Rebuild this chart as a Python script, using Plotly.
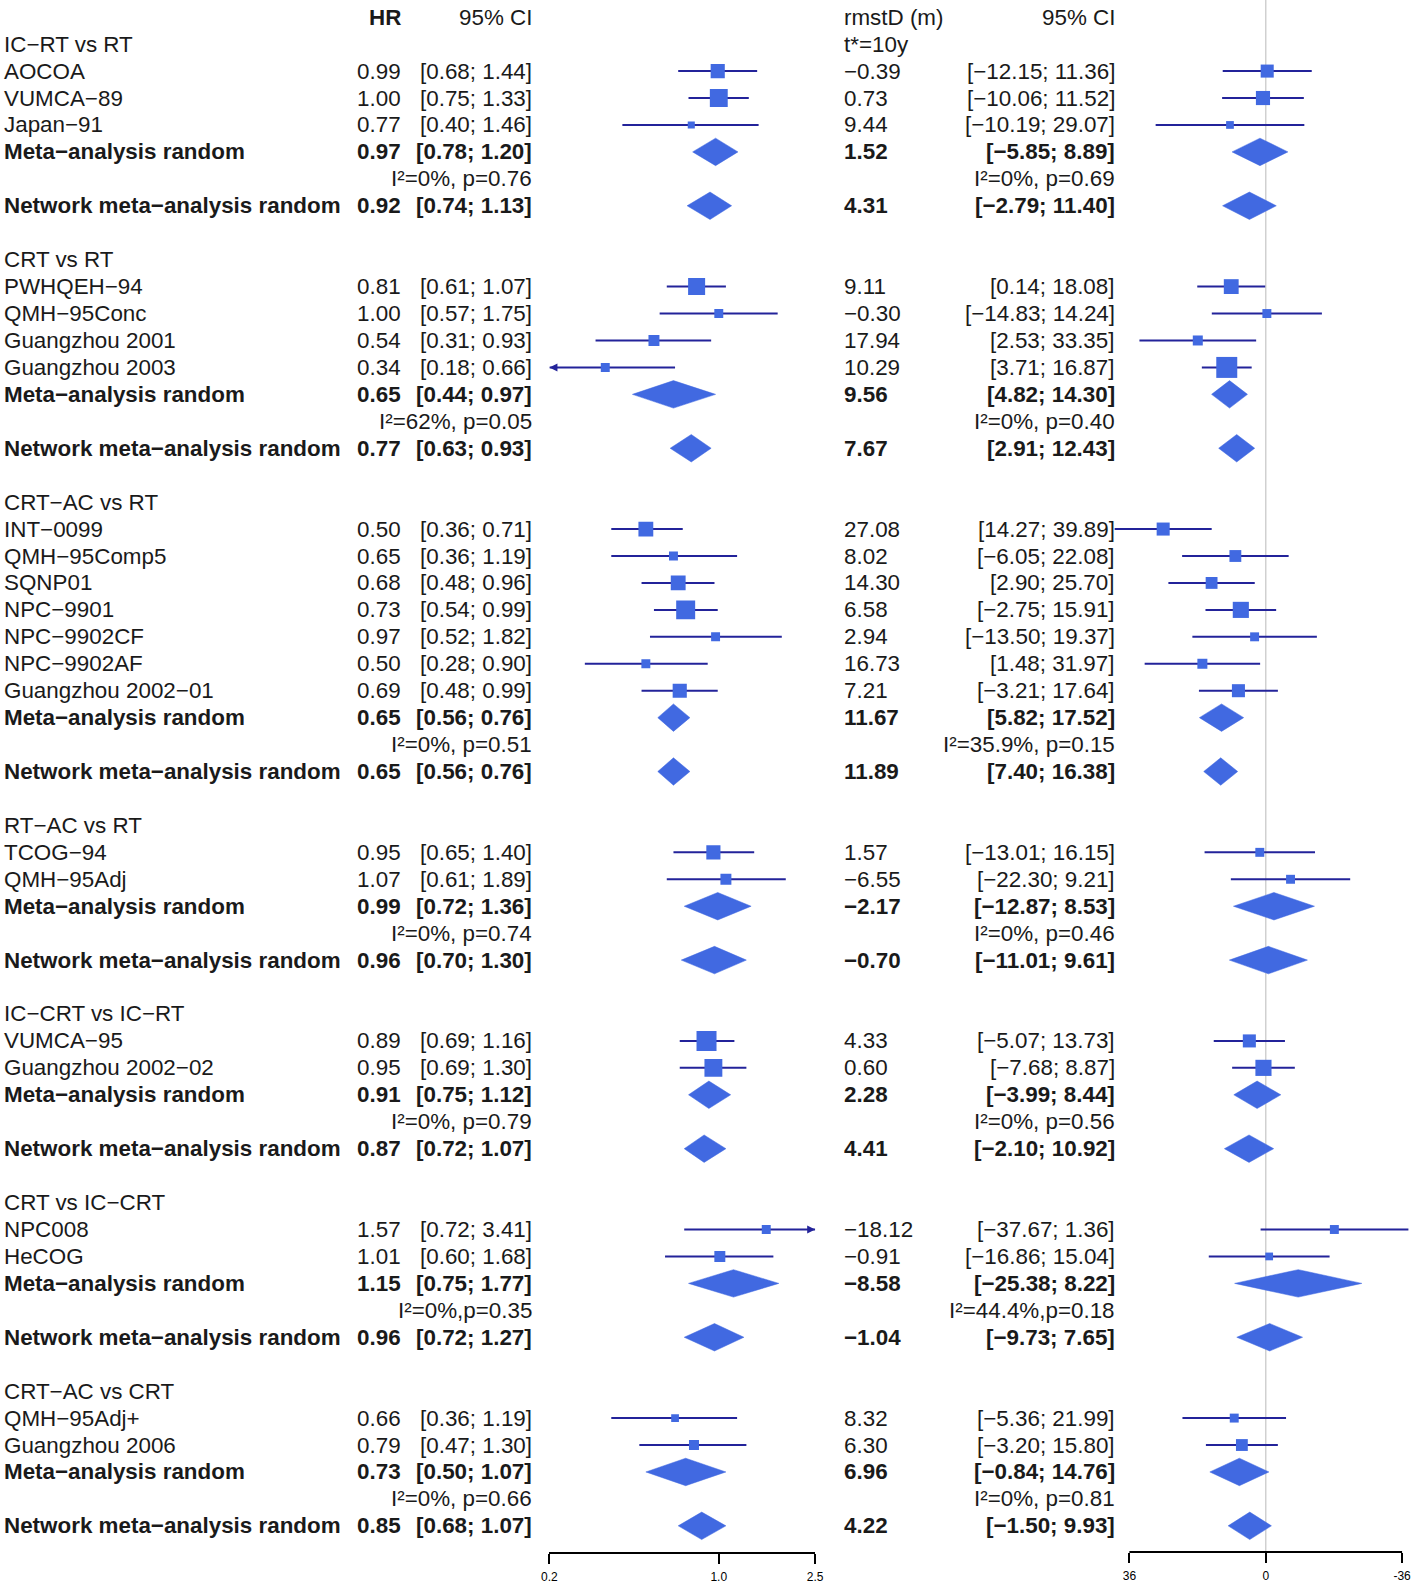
import math
import plotly.graph_objects as go

# ---------------- data ----------------
group_names = ["IC−RT vs RT", "CRT vs RT", "CRT−AC vs RT", "RT−AC vs RT",
               "IC−CRT vs IC−RT", "CRT vs IC−CRT", "CRT−AC vs CRT"]
study_group = [0, 0, 0, 1, 1, 1, 1, 2, 2, 2, 2, 2, 2, 2, 3, 3, 4, 4, 5, 5, 6, 6]
study_names = ["AOCOA", "VUMCA−89", "Japan−91", "PWHQEH−94", "QMH−95Conc",
               "Guangzhou 2001", "Guangzhou 2003", "INT−0099", "QMH−95Comp5",
               "SQNP01", "NPC−9901", "NPC−9902CF", "NPC−9902AF",
               "Guangzhou 2002−01", "TCOG−94", "QMH−95Adj", "VUMCA−95",
               "Guangzhou 2002−02", "NPC008", "HeCOG", "QMH−95Adj+", "Guangzhou 2006"]
hr_est = [0.99, 1.00, 0.77, 0.81, 1.00, 0.54, 0.34, 0.50, 0.65, 0.68, 0.73,
          0.97, 0.50, 0.69, 0.95, 1.07, 0.89, 0.95, 1.57, 1.01, 0.66, 0.79]
hr_lo = [0.68, 0.75, 0.40, 0.61, 0.57, 0.31, 0.18, 0.36, 0.36, 0.48, 0.54,
         0.52, 0.28, 0.48, 0.65, 0.61, 0.69, 0.69, 0.72, 0.60, 0.36, 0.47]
hr_hi = [1.44, 1.33, 1.46, 1.07, 1.75, 0.93, 0.66, 0.71, 1.19, 0.96, 0.99,
         1.82, 0.90, 0.99, 1.40, 1.89, 1.16, 1.30, 3.41, 1.68, 1.19, 1.30]
rm_est = [-0.39, 0.73, 9.44, 9.11, -0.30, 17.94, 10.29, 27.08, 8.02, 14.30, 6.58,
          2.94, 16.73, 7.21, 1.57, -6.55, 4.33, 0.60, -18.12, -0.91, 8.32, 6.30]
rm_lo = [-12.15, -10.06, -10.19, 0.14, -14.83, 2.53, 3.71, 14.27, -6.05, 2.90, -2.75,
         -13.50, 1.48, -3.21, -13.01, -22.30, -5.07, -7.68, -37.67, -16.86, -5.36, -3.20]
rm_hi = [11.36, 11.52, 29.07, 18.08, 14.24, 33.35, 16.87, 39.89, 22.08, 25.70, 15.91,
         19.37, 31.97, 17.64, 16.15, 9.21, 13.73, 8.87, 1.36, 15.04, 21.99, 15.80]
# relative study weights (estimated from square areas)
w_hr = [20, 32, 5, 29, 8, 12, 8, 22, 8, 22, 36, 8, 8, 20, 20, 12, 40, 32, 8, 12, 6, 10]
w_rm = [17, 20, 6, 22, 8, 10, 44, 17, 14, 14, 26, 8, 10, 17, 8, 8, 17, 26, 8, 6, 8, 14]

meta_hr = [0.97, 0.65, 0.65, 0.99, 0.91, 1.15, 0.73]
meta_hr_lo = [0.78, 0.44, 0.56, 0.72, 0.75, 0.75, 0.50]
meta_hr_hi = [1.20, 0.97, 0.76, 1.36, 1.12, 1.77, 1.07]
meta_rm = [1.52, 9.56, 11.67, -2.17, 2.28, -8.58, 6.96]
meta_rm_lo = [-5.85, 4.82, 5.82, -12.87, -3.99, -25.38, -0.84]
meta_rm_hi = [8.89, 14.30, 17.52, 8.53, 8.44, 8.22, 14.76]
het_hr = ["I²=0%, p=0.76", "I²=62%, p=0.05", "I²=0%, p=0.51", "I²=0%, p=0.74",
          "I²=0%, p=0.79", "I²=0%,p=0.35", "I²=0%, p=0.66"]
het_rm = ["I²=0%, p=0.69", "I²=0%, p=0.40", "I²=35.9%, p=0.15", "I²=0%, p=0.46",
          "I²=0%, p=0.56", "I²=44.4%,p=0.18", "I²=0%, p=0.81"]
net_hr = [0.92, 0.77, 0.65, 0.96, 0.87, 0.96, 0.85]
net_hr_lo = [0.74, 0.63, 0.56, 0.70, 0.72, 0.72, 0.68]
net_hr_hi = [1.13, 0.93, 0.76, 1.30, 1.07, 1.27, 1.07]
net_rm = [4.31, 7.67, 11.89, -0.70, 4.41, -1.04, 4.22]
net_rm_lo = [-2.79, 2.91, 7.40, -11.01, -2.10, -9.73, -1.50]
net_rm_hi = [11.40, 12.43, 16.38, 9.61, 10.92, 7.65, 9.93]

hr_ticks = [0.2, 1.0, 2.5]
hr_ticktext = ["0.2", "1.0", "2.5"]
rm_ticks = [36, 0, -36]
rm_ticktext = ["36", "0", "-36"]

# ---------------- layout constants ----------------
W, H = 1418, 1585
ROW0_PX, ROW_H = 17.2, 26.94
AXIS_PX = 1552
FONT = "Liberation Sans, Arial, sans-serif"
FS = 22.4
TXT = "#1a1a1a"
NAVY = "#23239a"
BLUE = "#4169E1"
HR_LO_B, HR_HI_B = hr_ticks[0], hr_ticks[-1]

def fmt(v):
    return f"{v:.2f}".replace("-", "−")

def ci(lo, hi):
    return f"[{fmt(lo)}; {fmt(hi)}]"

ann = []
def txt(xpx, row, s, anchor, bold=False):
    ann.append(dict(x=xpx / W, xref="paper", y=row, yref="y", text=(f"<b>{s}</b>" if bold else s),
                    showarrow=False, xanchor=anchor, yanchor="middle",
                    font=dict(family=FONT, size=FS, color=TXT)))

X_LAB, X_HR, X_HRCI, X_RM, X_RMCI = -6, 400, 532, 844, 1122

# header
txt(X_HR, 0, "HR", "right", bold=True)
txt(X_HRCI, 0, "95% CI", "right")
txt(X_RM, 0, "rmstD (m)", "left")
txt(X_RMCI, 0, "95% CI", "right")
txt(X_RM, 1, "t*=10y", "left")

# row assignment
study_rows, meta_rows, het_rows, net_rows, group_rows = [], [], [], [], []
row = 1
si = 0
for g, gname in enumerate(group_names):
    group_rows.append(row)
    txt(X_LAB, row, gname, "left")
    row += 1
    while si < len(study_names) and study_group[si] == g:
        study_rows.append(row)
        row += 1
        si += 1
    meta_rows.append(row); row += 1
    het_rows.append(row); row += 1
    net_rows.append(row); row += 2

for i, r in enumerate(study_rows):
    txt(X_LAB, r, study_names[i], "left")
    txt(X_HR, r, fmt(hr_est[i]), "right")
    txt(X_HRCI, r, ci(hr_lo[i], hr_hi[i]), "right")
    txt(X_RM, r, fmt(rm_est[i]), "left")
    txt(X_RMCI, r, ci(rm_lo[i], rm_hi[i]), "right")

for g in range(len(group_names)):
    r = meta_rows[g]
    txt(X_LAB, r, "Meta−analysis random", "left", True)
    txt(X_HR, r, fmt(meta_hr[g]), "right", True)
    txt(X_HRCI, r, ci(meta_hr_lo[g], meta_hr_hi[g]), "right", True)
    txt(X_RM, r, fmt(meta_rm[g]), "left", True)
    txt(X_RMCI, r, ci(meta_rm_lo[g], meta_rm_hi[g]), "right", True)
    r = het_rows[g]
    txt(X_HRCI, r, het_hr[g], "right")
    txt(X_RMCI, r, het_rm[g], "right")
    r = net_rows[g]
    txt(X_LAB, r, "Network meta−analysis random", "left", True)
    txt(X_HR, r, fmt(net_hr[g]), "right", True)
    txt(X_HRCI, r, ci(net_hr_lo[g], net_hr_hi[g]), "right", True)
    txt(X_RM, r, fmt(net_rm[g]), "left", True)
    txt(X_RMCI, r, ci(net_rm_lo[g], net_rm_hi[g]), "right", True)

fig = go.Figure()

# ---------- HR panel ----------
lx, ly = [], []
arr_l_x, arr_l_y, arr_r_x, arr_r_y = [], [], [], []
for i, r in enumerate(study_rows):
    lo = max(hr_lo[i], HR_LO_B)
    hi = min(hr_hi[i], HR_HI_B)
    lx += [lo, hi, None]; ly += [r, r, None]
    if hr_lo[i] < HR_LO_B:
        arr_l_x.append(HR_LO_B); arr_l_y.append(r)
    if hr_hi[i] > HR_HI_B:
        arr_r_x.append(HR_HI_B); arr_r_y.append(r)
fig.add_trace(go.Scatter(x=lx, y=ly, mode="lines", line=dict(color=NAVY, width=2),
                         xaxis="x", yaxis="y", hoverinfo="skip"))
fig.add_trace(go.Scatter(x=arr_l_x, y=arr_l_y, mode="markers", cliponaxis=False,
                         marker=dict(symbol="arrow-left", size=8, color=NAVY, opacity=1),
                         xaxis="x", yaxis="y"))
fig.add_trace(go.Scatter(x=arr_r_x, y=arr_r_y, mode="markers", cliponaxis=False,
                         marker=dict(symbol="arrow-right", size=8, color=NAVY, opacity=1),
                         xaxis="x", yaxis="y"))
fig.add_trace(go.Scatter(x=hr_est, y=study_rows, mode="markers",
                         marker=dict(symbol="square", color=BLUE, opacity=1,
                                     size=[math.sqrt(10 * w) for w in w_hr], line=dict(width=0)),
                         xaxis="x", yaxis="y"))

DH = 0.51
def diamonds(est, lo, hi, rows):
    xs, ys = [], []
    for e, a, b, r in zip(est, lo, hi, rows):
        xs += [a, e, b, e, a, None]
        ys += [r, r - DH, r, r + DH, r, None]
    return xs, ys

for (est, lo, hi, rows) in [(meta_hr, meta_hr_lo, meta_hr_hi, meta_rows),
                            (net_hr, net_hr_lo, net_hr_hi, net_rows)]:
    xs, ys = diamonds(est, lo, hi, rows)
    fig.add_trace(go.Scatter(x=xs, y=ys, mode="lines", fill="toself", fillcolor=BLUE,
                             line=dict(color=BLUE, width=0.5), xaxis="x", yaxis="y"))

# ---------- RMST panel ----------
rx, ry = [], []
for i, r in enumerate(study_rows):
    rx += [rm_lo[i], rm_hi[i], None]; ry += [r, r, None]
fig.add_trace(go.Scatter(x=rx, y=ry, mode="lines", line=dict(color=NAVY, width=2),
                         xaxis="x2", yaxis="y"))
fig.add_trace(go.Scatter(x=rm_est, y=study_rows, mode="markers",
                         marker=dict(symbol="square", color=BLUE, opacity=1,
                                     size=[math.sqrt(10 * w) for w in w_rm], line=dict(width=0)),
                         xaxis="x2", yaxis="y"))
for (est, lo, hi, rows) in [(meta_rm, meta_rm_lo, meta_rm_hi, meta_rows),
                            (net_rm, net_rm_lo, net_rm_hi, net_rows)]:
    xs, ys = diamonds(est, lo, hi, rows)
    fig.add_trace(go.Scatter(x=xs, y=ys, mode="lines", fill="toself", fillcolor=BLUE,
                             line=dict(color=BLUE, width=0.5), xaxis="x2", yaxis="y"))

# ---------- axes ----------
y_dom_bottom = 1 - AXIS_PX / H
y_top = -ROW0_PX / ROW_H
y_bot = (AXIS_PX - ROW0_PX) / ROW_H

L0, L1 = 548, 817
R_DOM0, R_DOM1 = 1085, 1418
R36_PX, RM36_PX = 1135, 1411
ppu = (RM36_PX - R36_PX) / (rm_ticks[0] - rm_ticks[-1])
r_left = rm_ticks[0] + (R36_PX - R_DOM0) / ppu
r_right = rm_ticks[-1] - (R_DOM1 - RM36_PX) / ppu

tickfont = dict(family=FONT, size=12, color="black")
fig.update_layout(
    width=W, height=H, margin=dict(l=0, r=0, t=0, b=0),
    paper_bgcolor="white", plot_bgcolor="white", showlegend=False,
    annotations=ann,
    yaxis=dict(domain=[y_dom_bottom, 1], range=[y_bot, y_top], visible=False,
               showgrid=False, zeroline=False, fixedrange=True),
    xaxis=dict(type="log", domain=[L0 / W, L1 / W],
               range=[math.log10(hr_ticks[0]), math.log10(hr_ticks[-1])],
               tickvals=hr_ticks, ticktext=hr_ticktext, ticks="outside", ticklen=10,
               tickwidth=2, tickcolor="black", showline=True, linecolor="black", linewidth=2,
               showgrid=False, zeroline=False, tickfont=tickfont, anchor="y",
               ticklabelstandoff=3),
    xaxis2=dict(domain=[R_DOM0 / W, R_DOM1 / W], range=[r_left, r_right],
                tickvals=rm_ticks, ticktext=rm_ticktext, ticks="outside", ticklen=10,
                tickwidth=2, tickcolor="black", showline=False,
                showgrid=False, zeroline=False, tickfont=tickfont, anchor="y",
                ticklabelstandoff=3),
)

shapes = [
    dict(type="line", xref="x", yref="y domain", x0=0, x1=0, y0=0, y1=1,
         line=dict(color="#d0d0d0", width=1.5), layer="below"),
    dict(type="line", xref="x2", yref="y domain", x0=0, x1=0, y0=0, y1=1,
         line=dict(color="#d0d0d0", width=1.5), layer="below"),
    dict(type="line", xref="x2", yref="y domain", x0=rm_ticks[0], x1=rm_ticks[-1], y0=0, y1=0,
         line=dict(color="black", width=2)),
]
fig.update_layout(shapes=shapes)

fig.write_html("out.html", config={"displayModeBar": False},
               post_script="document.body.style.margin='0';document.body.style.padding='0';"
                           "document.body.style.overflow='hidden';")
